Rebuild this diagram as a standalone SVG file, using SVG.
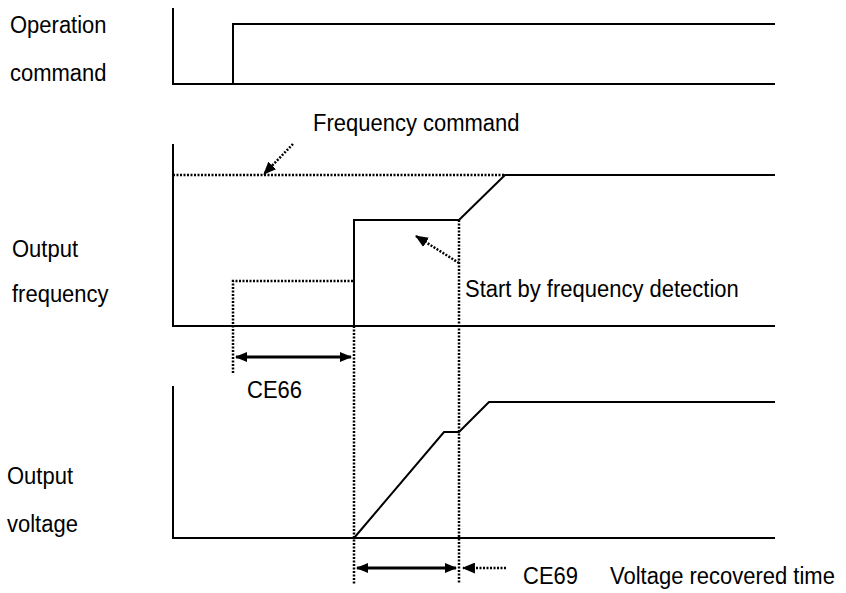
<svg xmlns="http://www.w3.org/2000/svg" width="846" height="593" viewBox="0 0 846 593">
<defs>
<style>
text{font-family:"Liberation Sans",Arial,sans-serif;font-size:22px;fill:#000}
.s{fill:none;stroke:#000;stroke-width:2}
.d{fill:none;stroke:#000;stroke-width:2.5;stroke-dasharray:2 1.5}
.a{fill:none;stroke:#000;stroke-width:3}
</style>
<marker id="h" viewBox="0 0 12 10" refX="11" refY="5" markerWidth="12" markerHeight="10" markerUnits="userSpaceOnUse" orient="auto-start-reverse">
<path d="M0,0 L12,5 L0,10 Z" fill="#000"/>
</marker>
<marker id="hs" viewBox="0 0 12 10" refX="11" refY="5" markerWidth="13" markerHeight="11" markerUnits="userSpaceOnUse" orient="auto">
<path d="M0,0 L12,5 L0,10 Z" fill="#000"/>
</marker>
</defs>
<rect width="846" height="593" fill="#fff"/>
<g id="labels">
<text transform="translate(10,33) scale(1,1.12)">Operation</text>
<text transform="translate(10,81) scale(1,1.12)">command</text>
<text transform="translate(12,257) scale(1,1.12)">Output</text>
<text transform="translate(12,302) scale(1,1.12)">frequency</text>
<text transform="translate(7,484) scale(1,1.12)">Output</text>
<text transform="translate(7,532) scale(1,1.12)">voltage</text>
<text transform="translate(313,131) scale(1,1.12)">Frequency command</text>
<text transform="translate(465,297) scale(1,1.12)">Start by frequency detection</text>
<text transform="translate(247,398) scale(1,1.12)">CE66</text>
<text transform="translate(523,584) scale(1,1.12)">CE69</text>
<text transform="translate(610,584) scale(1,1.12)">Voltage recovered time</text>
</g>
<g id="operation-command">
<path class="s" d="M173,8 V84 H775"/>
<path class="s" d="M233,84 V24 H775"/>
</g>
<g id="output-frequency">
<path class="s" d="M173,144 V326 H775"/>
<path class="d" d="M173,175 H505"/>
<path class="s" d="M354,326 V220 H459 L505,175 H775"/>
<path class="d" d="M233,373 V281 H354"/>
</g>
<g id="output-voltage">
<path class="s" d="M173,386 V538 H775"/>
<path class="s" d="M354,538 L444,432 H459 L489,402 H775"/>
</g>
<g id="connectors">
<path class="d" d="M354,326 V584"/>
<path class="d" d="M459,220 V584"/>
<path class="a" d="M236,357 H351" marker-start="url(#h)" marker-end="url(#h)"/>
<path class="a" d="M357,568 H456" marker-start="url(#h)" marker-end="url(#h)"/>
<path class="d" d="M506,568 H463" marker-end="url(#hs)"/>
<path class="d" d="M293,144 L264,174" marker-end="url(#hs)"/>
<path class="d" d="M459,263 L416,236" marker-end="url(#hs)"/>
</g>
</svg>
